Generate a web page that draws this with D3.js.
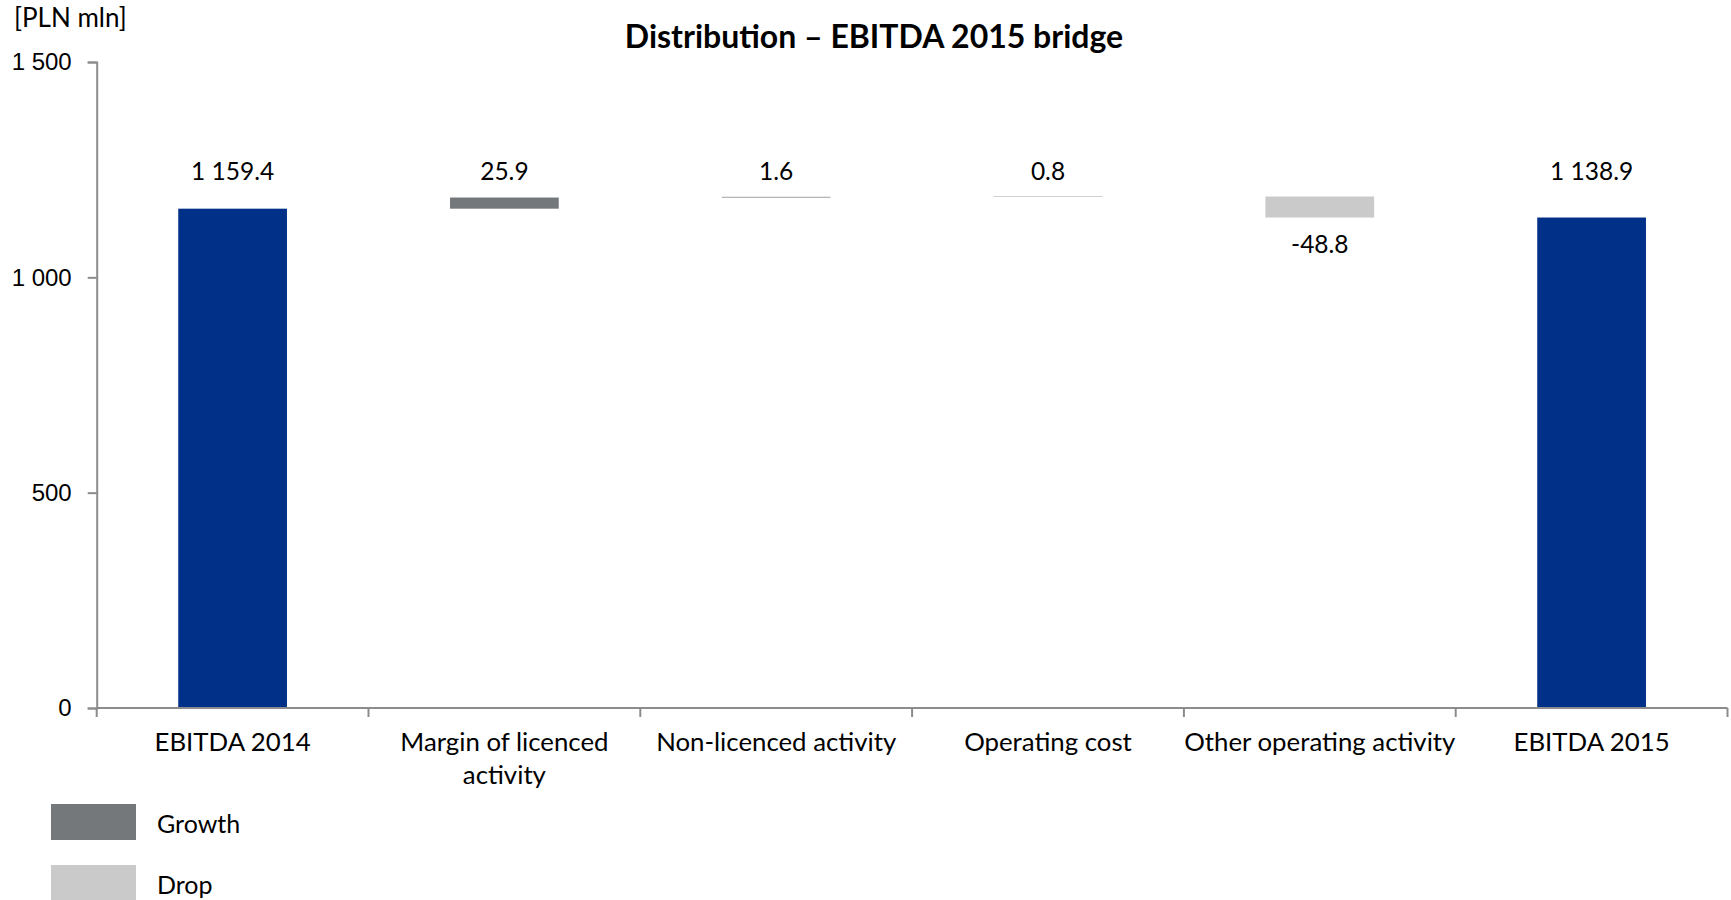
<!DOCTYPE html>
<html>
<head>
<meta charset="utf-8">
<script src="https://cdn.jsdelivr.net/npm/d3@7"></script>
<style>
  html, body { margin: 0; padding: 0; background: #fff; }
  svg { display: block; font-family: Lato, "Noto Sans", sans-serif; }
</style>
</head>
<body>
<svg id="chart" width="1731" height="900"></svg>
<script>
// EBITDA bridge, PLN mln
const categories = ["EBITDA 2014", "Margin of licenced activity", "Non-licenced activity",
                    "Operating cost", "Other operating activity", "EBITDA 2015"];
const values = [1159.4, 25.9, 1.6, 0.8, -48.8, 1138.9];
const kinds = ["total", "delta", "delta", "delta", "delta", "total"];
const yTicks = [0, 500, 1000, 1500];
const legendLabels = ["Growth", "Drop"];

const colors = { total: "#003087", growth: "#75787b", drop: "#c9cac9" };

const W = 1731, H = 900;
const margin = { top: 62, right: 3.5, bottom: 192, left: 96.7 };
const svg = d3.select("#chart");

const locale = d3.formatLocale({ decimal: ".", thousands: " ", grouping: [3], currency: ["", ""], minus: "-" });
const fmtVal = locale.format(",.1f");
const fmtTick = locale.format(",d");

// running totals for the floating bars
let running = 0;
const bars = categories.map((c, i) => {
  let y0, y1;
  if (kinds[i] === "total") { y0 = 0; y1 = values[i]; running = values[i]; }
  else { y0 = running; y1 = running + values[i]; running = y1; }
  return { cat: c, value: values[i], kind: kinds[i], lo: Math.min(y0, y1), hi: Math.max(y0, y1) };
});

const x = d3.scaleBand().domain(categories).range([margin.left, W - margin.right]).padding(0);
const y = d3.scaleLinear().domain([0, 1500]).range([H - margin.bottom, margin.top]);
const barW = x.bandwidth() * 0.4;
const topLevel = d3.max(bars, d => d.hi);

// title and unit
svg.append("text").attr("x", 874).attr("y", 48).attr("text-anchor", "middle")
  .attr("font-size", 32).attr("font-weight", "bold").attr("fill", "#000")
  .text("Distribution – EBITDA 2015 bridge");
svg.append("text").attr("x", 14).attr("y", 27).attr("font-size", 26).attr("fill", "#000")
  .text("[PLN mln]");

// bars
svg.append("g").selectAll("rect").data(bars).join("rect")
  .attr("x", d => x(d.cat) + (x.bandwidth() - barW) / 2)
  .attr("width", barW)
  .attr("y", d => y(d.hi))
  .attr("height", d => y(d.lo) - y(d.hi))
  .attr("fill", d => d.kind === "total" ? colors.total : (d.value >= 0 ? colors.growth : colors.drop));

// value labels: positive ones above the bridge, negative ones under their bar
svg.append("g").selectAll("text").data(bars).join("text")
  .attr("x", d => x(d.cat) + x.bandwidth() / 2)
  .attr("y", d => d.value >= 0 ? y(topLevel) - 16 : y(d.lo) + 35)
  .attr("text-anchor", "middle").attr("font-size", 24.5).attr("fill", "#000")
  .text(d => fmtVal(d.value));

// y axis
const yAxis = svg.append("g").attr("transform", `translate(${margin.left},0)`)
  .call(d3.axisLeft(y).tickValues(yTicks).tickFormat(fmtTick).tickSizeOuter(0).tickSize(9).tickPadding(16));
yAxis.select(".domain").attr("stroke", "#8c8c8c").attr("stroke-width", 2);
yAxis.selectAll(".tick line").attr("stroke", "#8c8c8c").attr("stroke-width", 2);
yAxis.selectAll(".tick text").attr("font-size", 24).attr("fill", "#000").attr("font-family", null);

// x axis with tick marks between categories
const xAxisG = svg.append("g").attr("transform", `translate(0,${y(0)})`);
xAxisG.append("line").attr("x1", margin.left).attr("x2", W - margin.right)
  .attr("stroke", "#8c8c8c").attr("stroke-width", 2);
const bounds = categories.map(c => x(c)).concat([x(categories[categories.length - 1]) + x.bandwidth()]);
xAxisG.selectAll("line.tk").data(bounds).join("line").attr("class", "tk")
  .attr("x1", d => d).attr("x2", d => d).attr("y1", 0).attr("y2", 9)
  .attr("stroke", "#8c8c8c").attr("stroke-width", 2);

// category labels, wrapped when wider than the band
const catText = xAxisG.selectAll("text.cat").data(categories).join("text").attr("class", "cat")
  .attr("x", d => x(d) + x.bandwidth() / 2)
  .attr("y", 43).attr("text-anchor", "middle").attr("font-size", 25.8).attr("fill", "#000");
catText.each(function (d) {
  const t = d3.select(this);
  const words = d.split(" ");
  const maxW = x.bandwidth() + 12;
  let line = [];
  let ts = t.append("tspan").attr("x", x(d) + x.bandwidth() / 2).attr("dy", 0);
  words.forEach(w => {
    line.push(w);
    ts.text(line.join(" "));
    if (ts.node().getComputedTextLength() > maxW && line.length > 1) {
      line.pop();
      ts.text(line.join(" "));
      line = [w];
      ts = t.append("tspan").attr("x", x(d) + x.bandwidth() / 2).attr("dy", 33).text(w);
    }
  });
});

// legend
const legend = svg.append("g");
legendLabels.forEach((l, i) => {
  const g = legend.append("g").attr("transform", `translate(51,${804 + i * 61})`);
  g.append("rect").attr("width", 85).attr("height", 36).attr("fill", i === 0 ? colors.growth : colors.drop);
  g.append("text").attr("x", 106).attr("y", 28.5).attr("font-size", 25).attr("fill", "#000").text(l);
});
</script>
</body>
</html>
